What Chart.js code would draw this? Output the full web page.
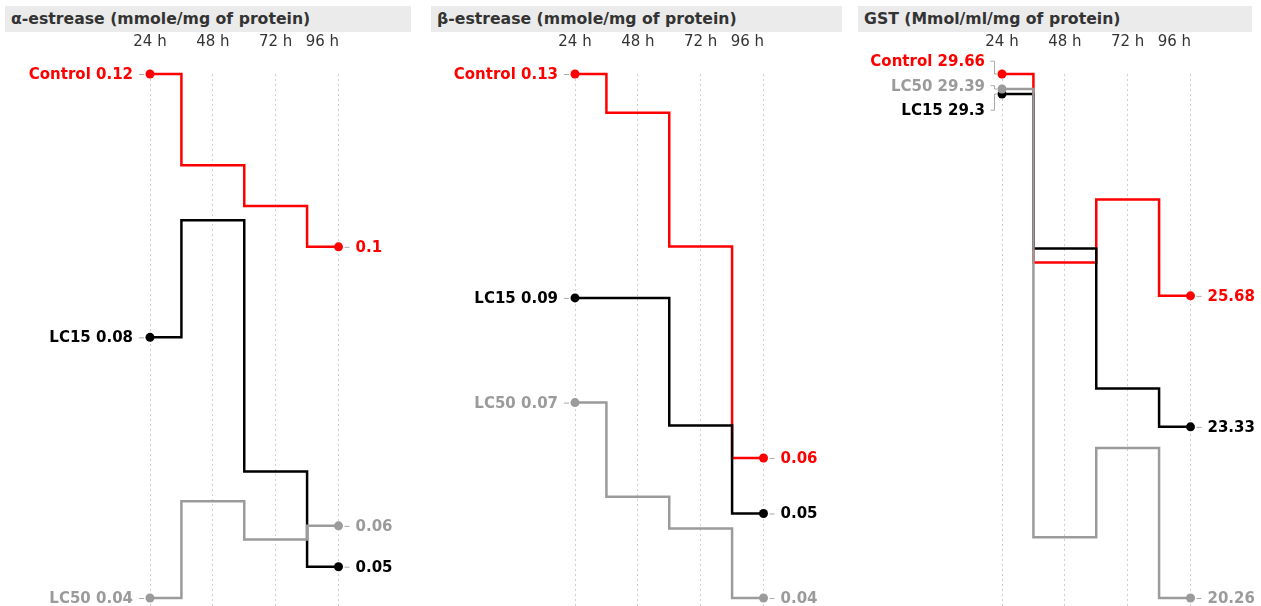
<!DOCTYPE html>
<html>
<head>
<meta charset="utf-8">
<title>Enzyme activity over time</title>
<script src="https://cdn.jsdelivr.net/npm/chart.js@4.4.1/dist/chart.umd.min.js"></script>
<style>
  html, body { margin: 0; padding: 0; background: #fff; }
  body { width: 1261px; height: 606px; overflow: hidden; position: relative; font-family: "DejaVu Sans", sans-serif; }
  .panel { position: absolute; top: 0; height: 606px; }
  .panel .title {
    position: absolute; top: 6px; left: 0; height: 26px;
    background: #ebebeb; color: #333; font-weight: 700; font-size: 15.7px;
    line-height: 26px; padding-left: 6px; box-sizing: border-box; white-space: nowrap;
  }
  .panel canvas { position: absolute; top: 0; left: 0; }
</style>
</head>
<body>
<div class="panel" id="p0"><div class="title"></div><canvas></canvas></div>
<div class="panel" id="p1"><div class="title"></div><canvas></canvas></div>
<div class="panel" id="p2"><div class="title"></div><canvas></canvas></div>
<script>
// Sampling times (x categories)
const hours = ['24 h', '48 h', '72 h', '96 h'];

// Treatment groups and their colours
const groupNames = ['Control', 'LC15', 'LC50'];
const groupColors = ['#ff0000', '#000000', '#9b9b9b'];

// α-estrease (mmole/mg of protein)
const alphaTitle = 'α-estrease (mmole/mg of protein)';
const alphaControl = [0.1216, 0.1082, 0.1022, 0.0962];
const alphaLC15 = [0.0829, 0.1001, 0.0632, 0.0492];
const alphaLC50 = [0.0446, 0.0588, 0.0532, 0.0552];

// β-estrease (mmole/mg of protein)
const betaTitle = 'β-estrease (mmole/mg of protein)';
const betaControl = [0.1308, 0.1239, 0.1000, 0.0622];
const betaLC15 = [0.0908, 0.0908, 0.0680, 0.0523];
const betaLC50 = [0.0721, 0.0553, 0.0496, 0.0372];

// GST (Mmol/ml/mg of protein)
const gstTitle = 'GST (Mmol/ml/mg of protein)';
const gstControl = [29.66, 26.28, 27.41, 25.68];
const gstLC15 = [29.3, 26.53, 24.02, 23.33];
const gstLC50 = [29.39, 21.35, 22.95, 20.26];

const panels = [
  { id: 'p0', title: alphaTitle, series: [alphaControl, alphaLC15, alphaLC50], left: 5, titleWidth: 406, width: 420, plotLeft: 145 },
  { id: 'p1', title: betaTitle, series: [betaControl, betaLC15, betaLC50], left: 431, titleWidth: 411, width: 420, plotLeft: 144 },
  { id: 'p2', title: gstTitle, series: [gstControl, gstLC15, gstLC50], left: 858, titleWidth: 394, width: 403, plotLeft: 144 }
];

const PLOT_WIDTH = 188.5;
const PLOT_TOP = 74;
const VALUE_BOTTOM = 598;
const CANVAS_H = 606;
const LABEL_FONT = '700 15px "DejaVu Sans", sans-serif';
const TICK_FONT = '400 15px "DejaVu Sans", sans-serif';
const LABEL_GAP = 24.5;

function fmt(v) {
  return String(Math.round(v * 100) / 100);
}

// Push overlapping labels apart, keeping each cluster centred on its points
function spreadLabels(items, gap) {
  items.sort((a, b) => a.y - b.y);
  let clusters = items.map(it => ({ items: [it], y: it.y }));
  let changed = true;
  while (changed) {
    changed = false;
    for (let i = 0; i < clusters.length - 1; i++) {
      const a = clusters[i], b = clusters[i + 1];
      const aBottom = a.y + (a.items.length - 1) * gap / 2;
      const bTop = b.y - (b.items.length - 1) * gap / 2;
      if (bTop - aBottom < gap) {
        const merged = a.items.concat(b.items);
        const mean = merged.reduce((s, it) => s + it.y, 0) / merged.length;
        clusters.splice(i, 2, { items: merged, y: mean });
        changed = true;
        break;
      }
    }
  }
  clusters.forEach(c => c.items.forEach((it, k) => {
    it.ly = c.y + (k - (c.items.length - 1) / 2) * gap;
  }));
  return items;
}

const stepLabels = {
  id: 'stepLabels',
  afterDraw(chart) {
    const ctx = chart.ctx;
    const xs = chart.scales.x;

    // hour labels above the grid
    ctx.save();
    ctx.font = TICK_FONT;
    ctx.fillStyle = '#333';
    ctx.textBaseline = 'middle';
    hours.forEach((h, i) => {
      const x = xs.getPixelForValue(i);
      const isLast = i === hours.length - 1;
      ctx.textAlign = isLast ? 'right' : 'center';
      ctx.fillText(h, isLast ? x + 0.5 : x, 42);
    });
    ctx.restore();

    const startItems = [], endItems = [];
    chart.data.datasets.forEach((ds, di) => {
      const meta = chart.getDatasetMeta(di);
      const first = meta.data[0], last = meta.data[meta.data.length - 1];
      startItems.push({ x: first.x, y: first.y, text: ds.label + ' ' + fmt(ds.data[0]), color: ds.borderColor });
      endItems.push({ x: last.x, y: last.y, text: fmt(ds.data[ds.data.length - 1]), color: ds.borderColor });
    });
    spreadLabels(startItems, LABEL_GAP);
    spreadLabels(endItems, LABEL_GAP);

    ctx.save();
    ctx.font = LABEL_FONT;
    ctx.textBaseline = 'middle';
    ctx.lineWidth = 1;
    ctx.strokeStyle = '#aaaaaa';

    startItems.forEach(it => {
      ctx.beginPath();
      if (Math.abs(it.ly - it.y) < 0.5) {
        ctx.moveTo(it.x - 11, it.y + 0.5);
        ctx.lineTo(it.x - 6, it.y + 0.5);
      } else {
        const vx = Math.round(it.x - 8) + 0.5;
        ctx.moveTo(vx - 4, it.ly);
        ctx.lineTo(vx, it.ly);
        ctx.lineTo(vx, it.y);
        ctx.lineTo(vx + 3, it.y);
      }
      ctx.stroke();
      ctx.fillStyle = it.color;
      ctx.textAlign = 'right';
      ctx.fillText(it.text, it.x - 17, it.ly + 1);
    });

    endItems.forEach(it => {
      ctx.beginPath();
      if (Math.abs(it.ly - it.y) < 0.5) {
        ctx.moveTo(it.x + 6, it.y + 0.5);
        ctx.lineTo(it.x + 11, it.y + 0.5);
      } else {
        const vx = Math.round(it.x + 8) + 0.5;
        ctx.moveTo(vx - 3, it.y);
        ctx.lineTo(vx, it.y);
        ctx.lineTo(vx, it.ly);
        ctx.lineTo(vx + 4, it.ly);
      }
      ctx.stroke();
      ctx.fillStyle = it.color;
      ctx.textAlign = 'left';
      ctx.fillText(it.text, it.x + 17, it.ly + 1);
    });
    ctx.restore();
  }
};

panels.forEach(p => {
  const el = document.getElementById(p.id);
  el.style.left = p.left + 'px';
  el.style.width = p.width + 'px';
  const titleEl = el.querySelector('.title');
  titleEl.textContent = p.title;
  titleEl.style.width = p.titleWidth + 'px';
  const canvas = el.querySelector('canvas');
  canvas.width = p.width;
  canvas.height = CANVAS_H;
  canvas.style.width = p.width + 'px';
  canvas.style.height = CANVAS_H + 'px';

  const all = p.series.flat();
  const hi = Math.max(...all);
  const lo = Math.min(...all);
  const span = hi - lo;
  // extend the value range below the lowest point so the grid runs to the bottom edge
  const yMin = lo - span * (CANVAS_H - VALUE_BOTTOM) / (VALUE_BOTTOM - PLOT_TOP);

  const datasets = p.series.map((values, i) => ({
    label: groupNames[i],
    data: values,
    borderColor: groupColors[i],
    backgroundColor: groupColors[i],
    borderWidth: 2.5,
    stepped: 'middle',
    fill: false,
    clip: false,
    order: 2 - i,
    pointRadius: ctx => (ctx.dataIndex === 0 || ctx.dataIndex === values.length - 1) ? 4.5 : 0,
    pointHoverRadius: 0,
    pointBorderWidth: 0,
    pointBackgroundColor: groupColors[i]
  }));

  new Chart(canvas, {
    type: 'line',
    data: { labels: hours, datasets },
    options: {
      responsive: false,
      animation: false,
      devicePixelRatio: 1,
      events: [],
      layout: {
        autoPadding: false,
        padding: { left: p.plotLeft, right: p.width - p.plotLeft - PLOT_WIDTH, top: PLOT_TOP, bottom: 0 }
      },
      plugins: { legend: { display: false }, tooltip: { enabled: false }, title: { display: false } },
      scales: {
        x: {
          type: 'category',
          position: 'top',
          offset: false,
          border: { display: false },
          grid: { color: '#cfcfcf', lineWidth: 1, drawTicks: false },
          ticks: { display: false },
          afterFit: s => { s.height = 0; }
        },
        y: {
          display: false,
          min: yMin,
          max: hi
        }
      }
    },
    plugins: [{
      id: 'dottedGrid',
      beforeInit(chart) {
        chart.options.scales.x.border.dash = [2, 3];
      }
    }, stepLabels]
  });
});
</script>
</body>
</html>
